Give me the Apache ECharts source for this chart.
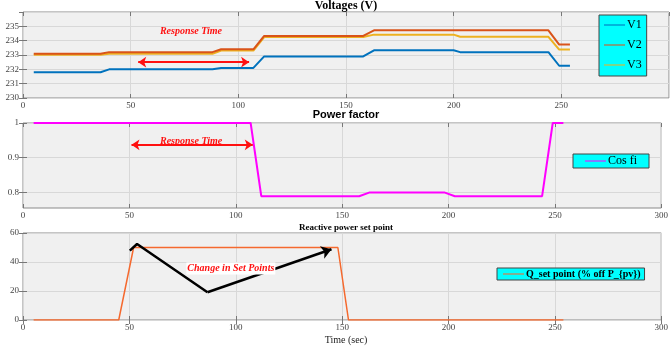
<!DOCTYPE html>
<html><head><meta charset="utf-8">
<script src="https://cdn.jsdelivr.net/npm/echarts@6/dist/echarts.min.js"></script>
<style>html,body{margin:0;padding:0;background:#fff}#c{width:671px;height:350px}</style>
</head><body><div id="c"></div>
<script>
// ---- data ----
const timeV = [5, 36, 40, 88, 92, 107, 112, 158, 163, 200, 203, 244, 249, 254];
const V1 = [231.8, 231.8, 232.0, 232.0, 232.1, 232.1, 232.9, 232.9, 233.33, 233.33, 233.2, 233.2, 232.25, 232.25];
const V2 = [233.08, 233.08, 233.2, 233.2, 233.4, 233.4, 234.33, 234.33, 234.72, 234.72, 234.72, 234.72, 233.73, 233.73];
const V3 = [233.02, 233.02, 233.08, 233.08, 233.31, 233.31, 234.25, 234.25, 234.42, 234.42, 234.27, 234.27, 233.38, 233.38];
const timePF = [5, 107, 112, 158, 163, 198, 203, 244, 249, 254];
const PF = [1, 1, 0.789, 0.789, 0.8, 0.8, 0.789, 0.789, 1, 1];
const timeQ = [5, 45, 52, 148, 153, 254];
const Q = [0, 0, 50, 50, 0, 0];
const xTicks = [0, 50, 100, 150, 200, 250, 300];
const vTicks = [230, 231, 232, 233, 234, 235];
const pfTicks = [0.8, 0.9, 1];
const qTicks = [0, 20, 40, 60];
// annotations (data coordinates)
const rtArrowV = [[53.5, 232.5], [105, 232.5]];
const rtTextV = [78, 234.65];
const rtArrowPF = [[51, 0.937], [108, 0.937]];
const rtTextPF = [79, 0.947];
const spPath = [[50.2, 47.8], [53.6, 52.4], [86.7, 19.1]];
const spArrowEnd = [145, 48.8];
const spText = [97.7, 35.6];

const pair = (xs, ys) => xs.map((x, i) => [x, ys[i]]);
const serif = '"Liberation Serif", "DejaVu Serif", serif';
const grids = [
  {left: 23, right: 2, top: 12, height: 86},
  {left: 23, right: 2, top: 123, height: 85},
  {left: 23, right: 2, top: 233, height: 87}
].map(g => Object.assign(g, {show: true, backgroundColor: '#f0f0f0', borderColor: '#8a8a8a', borderWidth: 1}));

const labelStyle = {fontFamily: serif, fontSize: 9, color: '#444'};
const tickStyle = {show: true, inside: true, length: 4, lineStyle: {color: '#777'}};
function xAx(i, hideLast) {
  return {type: 'value', gridIndex: i, min: 0, max: 300, interval: 50,
    axisLine: {show: false}, axisTick: tickStyle,
    splitLine: {show: true, lineStyle: {color: '#d8d8d8', width: 1}},
    axisLabel: Object.assign({margin: 3, showMaxLabel: !hideLast}, labelStyle)};
}
function xTop(i) {
  return {type: 'value', gridIndex: i, position: 'top', min: 0, max: 300, interval: 50,
    axisLine: {show: false}, axisTick: tickStyle, splitLine: {show: false}, axisLabel: {show: false}};
}
function yAx(i, extra) {
  return Object.assign({type: 'value', gridIndex: i,
    axisLine: {show: false}, axisTick: tickStyle,
    splitLine: {show: true, lineStyle: {color: '#d8d8d8', width: 1}},
    axisLabel: Object.assign({margin: 4}, labelStyle)}, extra);
}
function yRight(i, extra) {
  return Object.assign({type: 'value', gridIndex: i, position: 'right',
    axisLine: {show: false}, axisTick: tickStyle, splitLine: {show: false}, axisLabel: {show: false}}, extra);
}
const titleBase = {left: 346, textAlign: 'center', padding: 0};
const annoText = {color: '#ff1010', fontStyle: 'italic', fontWeight: 'bold', fontFamily: serif, fontSize: 10};
const lineIcon = 'path://M0,0 L40,0 L40,2 L0,2 Z';

const option = {
  animation: false,
  grid: grids,
  title: [
    Object.assign({text: 'Voltages (V)', top: 0, textStyle: {fontFamily: serif, fontWeight: 'bold', fontSize: 12, color: '#000'}}, titleBase),
    Object.assign({text: 'Power factor', top: 109, textStyle: {fontFamily: '"Liberation Sans", Arial, sans-serif', fontWeight: 'bold', fontSize: 11, color: '#000'}}, titleBase),
    Object.assign({text: 'Reactive power set point', top: 223, textStyle: {fontFamily: serif, fontWeight: 'bold', fontSize: 9, color: '#000'}}, titleBase),
    Object.assign({text: 'Time (sec)', top: 335, textStyle: {fontFamily: serif, fontWeight: 'normal', fontSize: 10, color: '#222'}}, titleBase)
  ],
  xAxis: [xAx(0, true), xAx(1, false), xAx(2, false), xTop(0), xTop(1), xTop(2)],
  yAxis: [
    yAx(0, {min: 230, max: 236, interval: 1, axisLabel: Object.assign({margin: 4, showMaxLabel: false}, labelStyle)}),
    yAx(1, {min: 0.755, max: 1, axisTick: Object.assign({customValues: pfTicks}, tickStyle),
      axisLabel: Object.assign({margin: 4, customValues: pfTicks, formatter: v => String(+v.toFixed(2))}, labelStyle)}),
    yAx(2, {min: 0, max: 60, interval: 20}),
    yRight(0, {min: 230, max: 236, interval: 1}),
    yRight(1, {min: 0.755, max: 1, axisTick: Object.assign({customValues: pfTicks}, tickStyle)}),
    yRight(2, {min: 0, max: 60, interval: 20})
  ],
  legend: [
    {data: ['V1', 'V2', 'V3'], left: 599, top: 15, orient: 'vertical', itemGap: 8, itemWidth: 21, itemHeight: 12,
     icon: lineIcon,
     backgroundColor: '#00ffff', borderColor: '#444', borderWidth: 1, padding: [4, 5, 5, 5],
     textStyle: {fontFamily: serif, fontSize: 12, color: '#000', padding: [0, 0, 0, -3]}},
    {data: ['Cos fi'], left: 573, top: 154, itemWidth: 21, itemHeight: 12, icon: lineIcon,
     backgroundColor: '#00ffff', borderColor: '#444', borderWidth: 1, padding: [1, 12, 1, 12],
     textStyle: {fontFamily: serif, fontSize: 12, color: '#000', padding: [0, 0, 0, -3]}},
    {data: ['Q_set point (% off P_{pv})'], left: 497, top: 268, itemWidth: 21, itemHeight: 14, icon: lineIcon,
     backgroundColor: '#00ffff', borderColor: '#444', borderWidth: 1, padding: [1, 4, 1, 6],
     textStyle: {fontFamily: serif, fontSize: 10, fontWeight: 'bold', color: '#000', padding: [0, 0, 0, -3]}}
  ],
  series: [
    {name: 'V1', type: 'line', xAxisIndex: 0, yAxisIndex: 0, data: pair(timeV, V1), showSymbol: false, symbol: 'none',
     color: '#0072BD', lineStyle: {width: 2}},
    {name: 'V3', type: 'line', xAxisIndex: 0, yAxisIndex: 0, data: pair(timeV, V3), showSymbol: false, symbol: 'none',
     color: '#EDB120', lineStyle: {width: 2}},
    {name: 'V2', type: 'line', xAxisIndex: 0, yAxisIndex: 0, data: pair(timeV, V2), showSymbol: false, symbol: 'none',
     color: '#D95319', lineStyle: {width: 2}, z: 3,
     markLine: {silent: true, symbol: ['arrow', 'arrow'], symbolSize: 8, label: {show: false},
       lineStyle: {color: '#ff1010', width: 2, type: 'solid'},
       data: [[{coord: rtArrowV[0]}, {coord: rtArrowV[1]}]]},
     markPoint: {silent: true, symbol: 'rect', symbolSize: 0,
       data: [{coord: rtTextV, label: Object.assign({show: true, position: 'inside', formatter: 'Response Time'}, annoText)}]}},
    {name: 'Cos fi', type: 'line', xAxisIndex: 1, yAxisIndex: 1, data: pair(timePF, PF), showSymbol: false, symbol: 'none',
     color: '#FF00FF', lineStyle: {width: 2},
     markLine: {silent: true, symbol: ['arrow', 'arrow'], symbolSize: 8, label: {show: false},
       lineStyle: {color: '#ff1010', width: 2, type: 'solid'},
       data: [[{coord: rtArrowPF[0]}, {coord: rtArrowPF[1]}]]},
     markPoint: {silent: true, symbol: 'rect', symbolSize: 0,
       data: [{coord: rtTextPF, label: Object.assign({show: true, position: 'inside', formatter: 'Response Time'}, annoText)}]}},
    {name: 'Q_set point (% off P_{pv})', type: 'line', xAxisIndex: 2, yAxisIndex: 2, data: pair(timeQ, Q), showSymbol: false, symbol: 'none',
     color: '#F5692E', lineStyle: {width: 1.5}},
    {name: 'setpoint-arrow', type: 'line', xAxisIndex: 2, yAxisIndex: 2, data: spPath, showSymbol: false, symbol: 'none',
     color: '#000', lineStyle: {width: 2.5}, z: 5,
     markLine: {silent: true, symbol: ['none', 'arrow'], symbolSize: 10, label: {show: false},
       lineStyle: {color: '#000', width: 2.5, type: 'solid'},
       data: [[{coord: spPath[spPath.length - 1]}, {coord: spArrowEnd}]]},
     markPoint: {silent: true, symbol: 'rect', symbolSize: 0, z: 10,
       data: [{coord: spText, label: Object.assign({show: true, position: 'inside', formatter: 'Change in Set Points',
         backgroundColor: '#fff', padding: [1, 1]}, annoText)}]}}
  ]
};
const chart = echarts.init(document.getElementById('c'));
chart.setOption(option);
</script></body></html>
